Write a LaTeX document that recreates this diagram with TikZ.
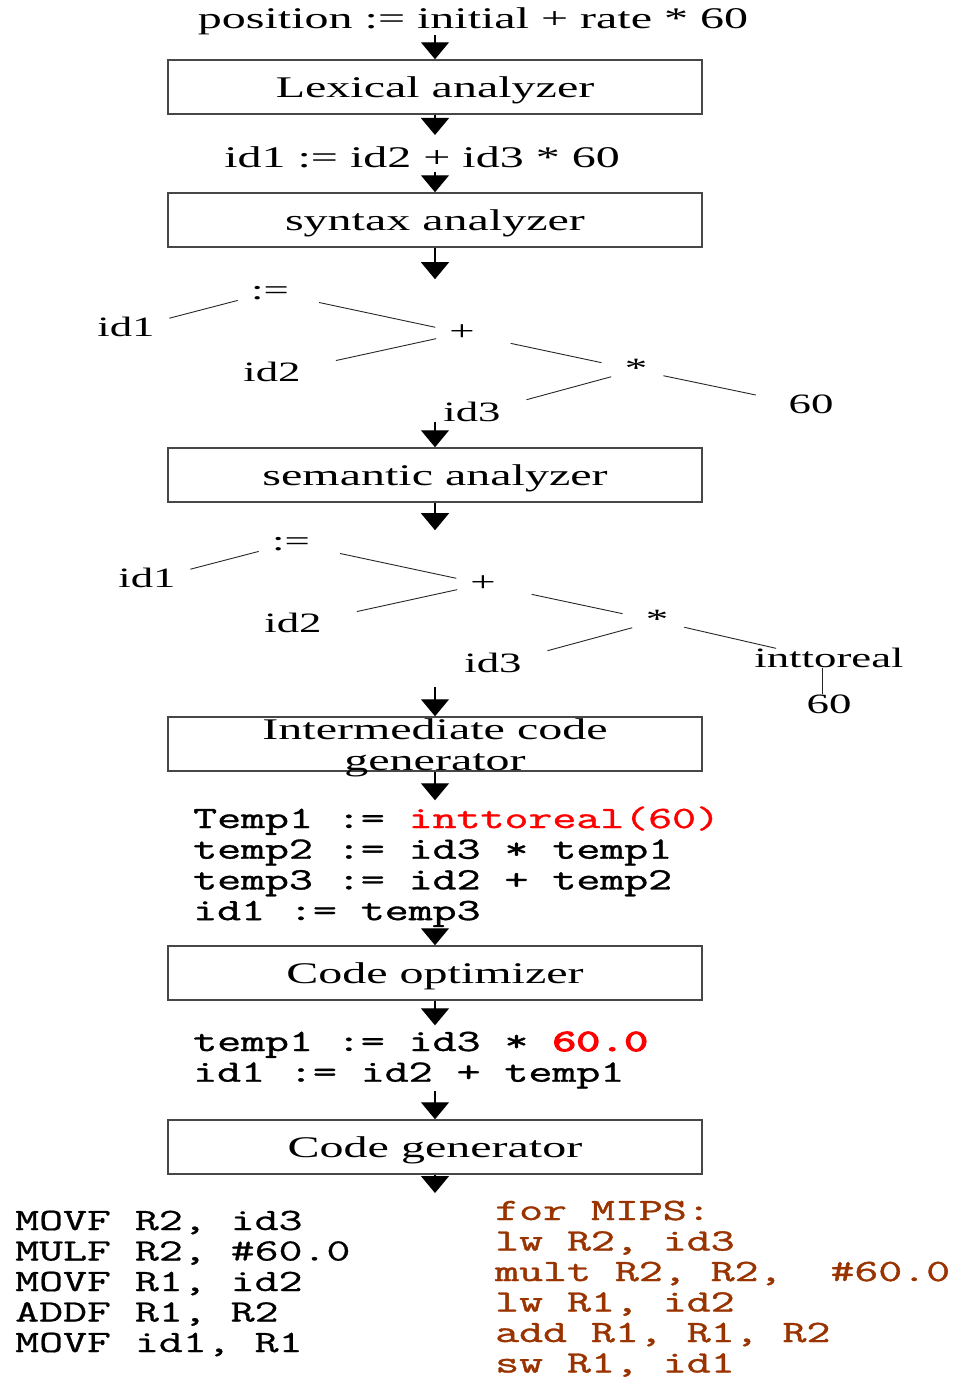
\documentclass[tikz,border=0pt]{standalone}
\usepackage{fontspec}
\setmainfont{Liberation Serif}
\newfontfamily\codefont[FakeBold=1]{Latin Modern Mono}
\newfontfamily\codefontl[FakeBold=0.6]{Latin Modern Mono}
\newfontfamily\codefontb[FakeBold=3.5]{Latin Modern Mono}
\usepackage{graphicx}
\usetikzlibrary{arrows.meta}
\definecolor{brownc}{RGB}{153,51,0}
\newcommand\hs[1]{\scalebox{1.6}[1]{#1}}
\newcommand\hc[1]{\scalebox{1.5}[1]{#1}}
\begin{document}
\begin{tikzpicture}[x=1pt,y=-1pt,
  serif/.style={font=\fontsize{30}{31}\selectfont, inner sep=0pt},
  boxst/.style={draw=black!72, line width=1.5pt, minimum width=534pt, minimum height=54pt, inner sep=0pt, text depth=0pt, font=\fontsize{30}{31}\selectfont},
  flow/.style={-{Triangle[width=28pt,length=17pt]}, line width=1.3pt},
  tr/.style={font=\fontsize{28}{30}\selectfont, inner sep=0pt, text height=19.6pt, text depth=5.6pt},
  edge/.style={line width=0.9pt, black!85},
  code/.style={inner sep=0pt, anchor=base west}]
\useasboundingbox (0,0) rectangle (962,1382);

% flow
\node[serif, anchor=base] (t0) at (473,28) {\hs{position := initial + rate * 60}};
\node[boxst] (b1) at (435,87) {\hs{Lexical analyzer}};
\node[serif, anchor=base] (e1) at (422,167) {\hs{id1 := id2 + id3 * 60}};
\node[boxst] (b2) at (435,220) {\hs{syntax analyzer}};

% tree 1
\node[tr] (asga) at (270,292) {\hs{:=}};
\node[tr] (id1a) at (126,329.5) {\hs{id1}};
\node[tr] (plusa) at (462,333) {\hs{+}};
\node[tr] (id2a) at (272,374.5) {\hs{id2}};
\node[tr] (stara) at (636,370) {\hs{*}};
\node[tr] (id3a) at (472,414.5) {\hs{id3}};
\node[tr] (n60a) at (811,406.5) {\hs{60}};
\draw[edge, shorten <=44.8pt, shorten >=33.4pt] (id1a.center) -- (asga.center);
\draw[edge, shorten <=50.2pt, shorten >=27.3pt] (asga.center) -- (plusa.center);
\draw[edge, shorten <=26.5pt, shorten >=65.4pt] (plusa.center) -- (id2a.center);
\draw[edge, shorten <=49.8pt, shorten >=35.3pt] (plusa.center) -- (stara.center);
\draw[edge, shorten <=25.7pt, shorten >=56.4pt] (stara.center) -- (id3a.center);
\draw[edge, shorten <=28pt, shorten >=56.4pt] (stara.center) -- (n60a.center);

\node[boxst] (b3) at (435,475) {\hs{semantic analyzer}};

% tree 2
\begin{scope}[shift={(21,251)}]
\node[tr] (asgb) at (270,292) {\hs{:=}};
\node[tr] (id1b) at (126,329.5) {\hs{id1}};
\node[tr] (plusb) at (462,333) {\hs{+}};
\node[tr] (id2b) at (272,374.5) {\hs{id2}};
\node[tr] (starb) at (636,370) {\hs{*}};
\node[tr] (id3b) at (472,414.5) {\hs{id3}};
\draw[edge, shorten <=44.8pt, shorten >=33.4pt] (id1b.center) -- (asgb.center);
\draw[edge, shorten <=50.2pt, shorten >=27.3pt] (asgb.center) -- (plusb.center);
\draw[edge, shorten <=26.5pt, shorten >=65.4pt] (plusb.center) -- (id2b.center);
\draw[edge, shorten <=49.8pt, shorten >=35.3pt] (plusb.center) -- (starb.center);
\draw[edge, shorten <=25.7pt, shorten >=56.4pt] (starb.center) -- (id3b.center);
\end{scope}
\node[tr] (itr) at (829,660.5) {\hs{inttoreal}};
\node[tr] (n60b) at (829,706.5) {\hs{60}};
\draw[edge, shorten <=28pt, shorten >=54.3pt] (starb.center) -- (itr.center);
\draw[edge] ([xshift=-7pt]itr.base) -- ([xshift=-7pt]n60b.north);

\node[boxst] (b4) at (435,744) {};
\node[serif, align=center] (b4t) at ([yshift=-4pt]b4.center) {\hs{Intermediate code}\\\hs{generator}};

\node[code] (c1) at (193,828) {\codefont\fontsize{31}{30.7}\selectfont\hc{\begin{tabular}[t]{@{}l@{}}Temp1 := \textcolor{red}{inttoreal(60)}\\temp2 := id3 * temp1\\temp3 := id2 + temp2\\id1 := temp3\end{tabular}}};

\node[boxst] (b5) at (435,973) {\hs{Code optimizer}};

\node[code] (c2) at (193,1051) {\codefont\fontsize{31}{30.7}\selectfont\hc{\begin{tabular}[t]{@{}l@{}}temp1 := id3 * \textcolor{red}{\codefontb 60.0}\\id1 := id2 + temp1\end{tabular}}};

\node[boxst] (b6) at (435,1147) {\hs{Code generator}};
\coordinate (end) at (435,1193);

\node[code] (c3) at (15,1230) {\codefontl\fontsize{31}{30.5}\selectfont\hc{\begin{tabular}[t]{@{}l@{}}MOVF R2, id3\\MULF R2, \#60.0\\MOVF R1, id2\\ADDF R1, R2\\MOVF id1, R1\end{tabular}}};

\node[code, text=brownc] (c4) at (495,1220) {\codefont\fontsize{31}{30.5}\selectfont\hc{\begin{tabular}[t]{@{}l@{}}for MIPS:\\lw R2, id3\\mult R2, R2,~~\#60.0\\lw R1, id2\\add R1, R1, R2\\sw R1, id1\end{tabular}}};

% arrows
\draw[flow] (b1.north |- t0.south) -- (b1.north);
\draw[flow, shorten >=11pt] (b1.south) -- (b1.south |- e1.north);
\draw[flow, shorten <=4pt] (b2.north |- e1.south) -- (b2.north);
\draw[flow] (b2.south) -- (b2.south |- asga.north);
\draw[flow] (b3.north |- id3a.base) -- (b3.north);
\draw[flow] (b3.south) -- (b3.south |- asgb.north);
\draw[flow, shorten <=14pt] (b4.north |- id3b.base) -- (b4.north);
\draw[flow, shorten >=6pt] (b4.south) -- (b4.south |- c1.north);
\draw[flow] (b5.north |- c1.south) -- (b5.north);
\draw[flow, shorten >=4pt] (b5.south) -- (b5.south |- c2.north);
\draw[flow] (b6.north |- c2.south) -- (b6.north);
\draw[flow] (b6.south) -- (end);
\end{tikzpicture}
\end{document}
